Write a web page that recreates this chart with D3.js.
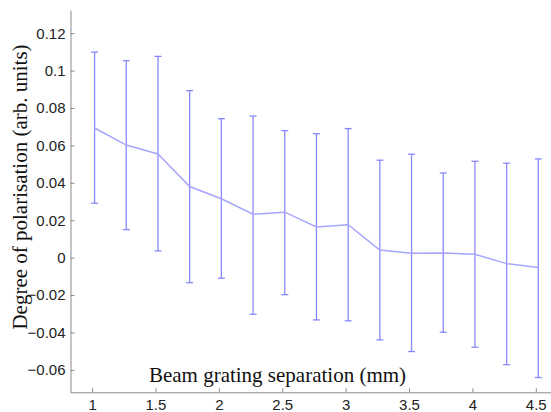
<!DOCTYPE html>
<html><head><meta charset="utf-8">
<script src="https://cdn.jsdelivr.net/npm/d3@7"></script>
<style>body{margin:0;background:#fff}svg{display:block}</style>
</head><body>
<svg id="c" width="551" height="412"></svg>
<script>
const separation = [1.02,1.27,1.52,1.77,2.02,2.27,2.52,2.77,3.02,3.27,3.52,3.77,4.02,4.27,4.52];
const polarisation = [0.0693,0.0602,0.0554,0.0380,0.0315,0.0232,0.0243,0.0164,0.0176,0.0041,0.0023,0.0025,0.0018,-0.0032,-0.0053];
const upper = [0.1099,0.1053,0.1076,0.0893,0.0743,0.0757,0.0679,0.0663,0.0690,0.0521,0.0553,0.0453,0.0515,0.0505,0.0528];
const lower = [0.0291,0.0150,0.0036,-0.0134,-0.0110,-0.0303,-0.0198,-0.0333,-0.0338,-0.0440,-0.0502,-0.0399,-0.0479,-0.0572,-0.0641];
const xTicks = [1,1.5,2,2.5,3,3.5,4,4.5];
const yTicks = [-0.06,-0.04,-0.02,0,0.02,0.04,0.06,0.08,0.1,0.12];
const xTitle = "Beam grating separation (mm)";
const yTitle = "Degree of polarisation (arb. units)";

const svg = d3.select("#c");
const x = d3.scaleLinear().domain([0.83,4.62]).range([70.5,551]);
const y = d3.scaleLinear().domain([-0.072,0.1324]).range([392.3,10]);

const axisColor = "#8a8a8a";
const ya = svg.append("g").attr("transform","translate(70.5,0)")
  .call(d3.axisLeft(y).tickValues(yTicks).tickSizeInner(-4).tickSizeOuter(0).tickPadding(6).tickFormat(d=>d3.format("")(+d.toFixed(2))));
const xa = svg.append("g").attr("transform","translate(0,392.3)")
  .call(d3.axisBottom(x).tickValues(xTicks).tickSizeInner(-4).tickSizeOuter(0).tickPadding(8).tickFormat(d=>String(d)));
[ya,xa].forEach(g=>{
  g.select(".domain").attr("stroke",axisColor).attr("stroke-width",1);
  g.selectAll(".tick line").attr("stroke",axisColor);
  g.selectAll("text").attr("fill","#222").style("font-family","'Liberation Sans',Arial,sans-serif").style("font-size","15px");
});
ya.selectAll("text").attr("x",-5);
xa.selectAll("text").attr("dy","0.71em").attr("y",7);

const eb = svg.append("g").attr("stroke","#7c7cff").attr("stroke-width",1.3).attr("fill","none").attr("stroke-opacity",0.9);
separation.forEach((s,i)=>{
  const cx = x(s);
  eb.append("line").attr("x1",cx).attr("x2",cx).attr("y1",y(upper[i])).attr("y2",y(lower[i]));
  eb.append("line").attr("x1",cx-3.5).attr("x2",cx+3.5).attr("y1",y(upper[i])).attr("y2",y(upper[i]));
  eb.append("line").attr("x1",cx-3.5).attr("x2",cx+3.5).attr("y1",y(lower[i])).attr("y2",y(lower[i]));
});
svg.append("path")
  .datum(separation.map((s,i)=>[s,polarisation[i]]))
  .attr("fill","none").attr("stroke","#a6a6ff").attr("stroke-width",1.5)
  .attr("d",d3.line().x(d=>x(d[0])).y(d=>y(d[1])));

svg.append("text").attr("x",277.5).attr("y",382).attr("text-anchor","middle")
  .style("font-family","'Liberation Serif','Times New Roman',serif").style("font-size","21px").attr("fill","#111").text(xTitle);
svg.append("text").attr("transform","translate(27,187) rotate(-90)").attr("text-anchor","middle")
  .style("font-family","'Liberation Serif','Times New Roman',serif").style("font-size","21px").attr("fill","#111").text(yTitle);
</script>
</body></html>
